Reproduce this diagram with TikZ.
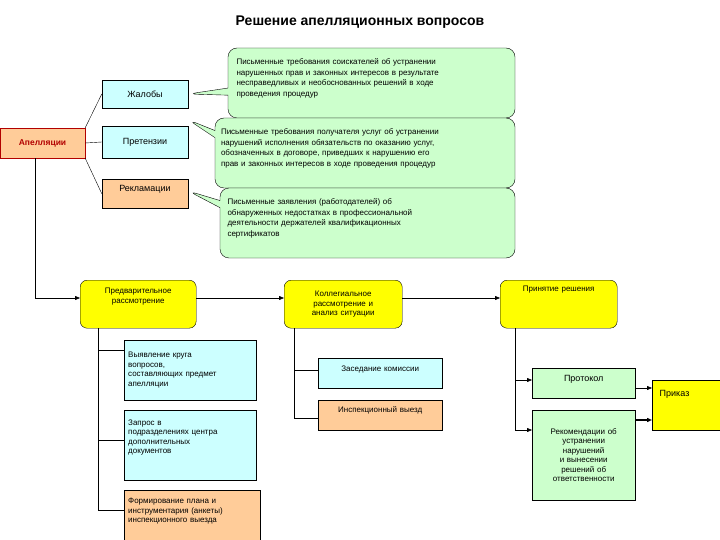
\documentclass[tikz,border=0pt]{standalone}
\usepackage{fontspec}
\setmainfont{Liberation Sans}
\usetikzlibrary{shapes.callouts,arrows.meta}
\definecolor{cy}{HTML}{CCFFFF}
\definecolor{pe}{HTML}{FFCC99}
\definecolor{gr}{HTML}{CCFFCC}
\definecolor{ye}{HTML}{FFFF00}
\newcommand{\pad}[1]{\\\rule{0pt}{#1}}
\begin{document}
\begin{tikzpicture}[x=1pt,y=-1pt,
  box/.style={draw,inner sep=2pt,font=\fontsize{8}{9.5}\selectfont},
  cbox/.style={box,fill=cy},
  pbox/.style={box,fill=pe},
  gbox/.style={box,fill=gr},
  ybox/.style={box,fill=ye,rounded corners=7pt},
  call/.style={draw,fill=gr,rectangle callout,rounded corners=9pt,font=\fontsize{8}{10.5}\selectfont,align=left,inner sep=4pt},
  arr/.style={-{Triangle[length=5pt,width=4pt]}}]
\path[use as bounding box] (0,0) rectangle (720,540);
\node[font=\bfseries\fontsize{14}{16}\selectfont] (title) at (360,22) {Решение апелляционных вопросов};

\node[box,fill=pe,draw=red!70!black,text=red!70!black,font=\bfseries\fontsize{8.5}{10}\selectfont,minimum width=85pt,minimum height=30pt] (ap) at (42.5,143) {Апелляции};
\node[cbox,minimum width=86pt,minimum height=28pt,font=\fontsize{9}{10}\selectfont] (zh) at (145,94) {Жалобы};
\node[cbox,minimum width=86pt,minimum height=32pt,font=\fontsize{9}{10}\selectfont] (pr) at (145,142) {Претензии};
\node[pbox,minimum width=86pt,minimum height=29pt,font=\fontsize{9}{10}\selectfont,anchor=north,align=center] (re) at (145,179) {Рекламации\pad{8pt}};

\draw (ap.north east) -- (zh.west);
\draw (ap.east) -- (pr.west);
\draw (ap.south east) -- (re.west);

\node[call,minimum width=287pt,minimum height=70pt,text width=270pt,callout absolute pointer={(zh.east)}] (c1) at (371.5,83) {Письменные требования соискателей об устранении\\нарушенных прав и законных интересов в результате\\несправедливых и необоснованных решений в ходе\\проведения процедур\pad{8pt}};
\node[call,minimum width=300pt,minimum height=70pt,text width=288pt,callout absolute pointer={([yshift=6pt]pr.north east)}] (c2) at (365,153) {Письменные требования получателя услуг об устранении\\нарушений исполнения обязательств по оказанию услуг,\\обозначенных в договоре, приведших к нарушению его\\прав и законных интересов в ходе проведения процедур\pad{6pt}};
\node[call,minimum width=295pt,minimum height=70pt,text width=280pt,callout absolute pointer={([yshift=-12pt]re.north east)}] (c3) at (367.5,223) {Письменные заявления (работодателей) об\\обнаруженных недостатках в профессиональной\\деятельности держателей квалификационных\\сертификатов\pad{4pt}};

\node[ybox,minimum width=116pt,minimum height=48pt,anchor=north west,text width=108pt,align=center] (pd) at (80,280) {Предварительное\\рассмотрение\pad{14pt}};
\node[ybox,minimum width=118pt,minimum height=48pt,anchor=north west,text width=110pt,align=center] (kl) at (284,280) {Коллегиальное\\рассмотрение и\\анализ ситуации};
\node[ybox,minimum width=117pt,minimum height=48pt,anchor=north west,text width=110pt,align=center] (pn) at (500,280) {Принятие решения\pad{28pt}};

\coordinate (c) at (35,298);
\draw[arr] (ap.south -| c) -- (c) -- (pd.west |- c);
\draw[arr] (pd.east |- c) -- (kl.west |- c);
\draw[arr] (kl.east |- c) -- (pn.west |- c);

\node[cbox,anchor=north west,minimum width=132pt,minimum height=60pt,text width=124pt,align=left] (v1) at (124,340) {Выявление круга\\вопросов,\\составляющих предмет\\апелляции};
\node[cbox,anchor=north west,minimum width=132pt,minimum height=70pt,text width=124pt,align=left] (v2) at (124,410) {Запрос в\\подразделениях центра\\дополнительных\\документов\pad{14pt}};
\node[pbox,anchor=north west,minimum width=136pt,minimum height=50pt,text width=128pt,align=left] (v3) at (124,490) {Формирование плана и\\инструментария (анкеты)\\инспекционного выезда\pad{6pt}};
\coordinate (t1) at (98,328);
\draw (t1) -- (98,510) -- (v3.west |- 0,510);
\draw (98,350) -- (v1.west |- 0,350);
\draw (98,440) -- (v2.west |- 0,440);

\node[cbox,anchor=north west,minimum width=124pt,minimum height=30pt,text width=116pt,align=center] (m1) at (318,358) {Заседание комиссии\pad{6pt}};
\node[pbox,anchor=north west,minimum width=124pt,minimum height=30pt,text width=116pt,align=center] (m2) at (318,400) {Инспекционный выезд\pad{8pt}};
\draw (294,328) -- (294,418) -- (m2.west |- 0,418);
\draw (294,370) -- (m1.west |- 0,370);

\node[gbox,anchor=north west,minimum width=103pt,minimum height=30pt,font=\fontsize{9}{10}\selectfont,align=center] (p1) at (532,368) {Протокол\pad{4pt}};
\node[gbox,anchor=north west,minimum width=103pt,minimum height=90pt,text width=96pt,align=center] (p2) at (532,410) {Рекомендации об\\устранении\\нарушений\\и вынесении\\решений об\\ответственности};
\node[box,fill=ye,anchor=north west,minimum width=75pt,minimum height=50pt,font=\fontsize{9}{10}\selectfont,text width=60pt,align=left] (pk) at (652,380) {Приказ\pad{20pt}};
\draw[arr] (515,328) -- (515,430) -- (p2.west |- 0,430);
\draw[arr] (515,380) -- (p1.west |- 0,380);
\draw[arr] (p1.east |- 0,388) -- (pk.west |- 0,388);
\draw[arr,line width=1.5pt] (p2.east |- 0,420) -- (pk.west |- 0,420);
\end{tikzpicture}
\end{document}
